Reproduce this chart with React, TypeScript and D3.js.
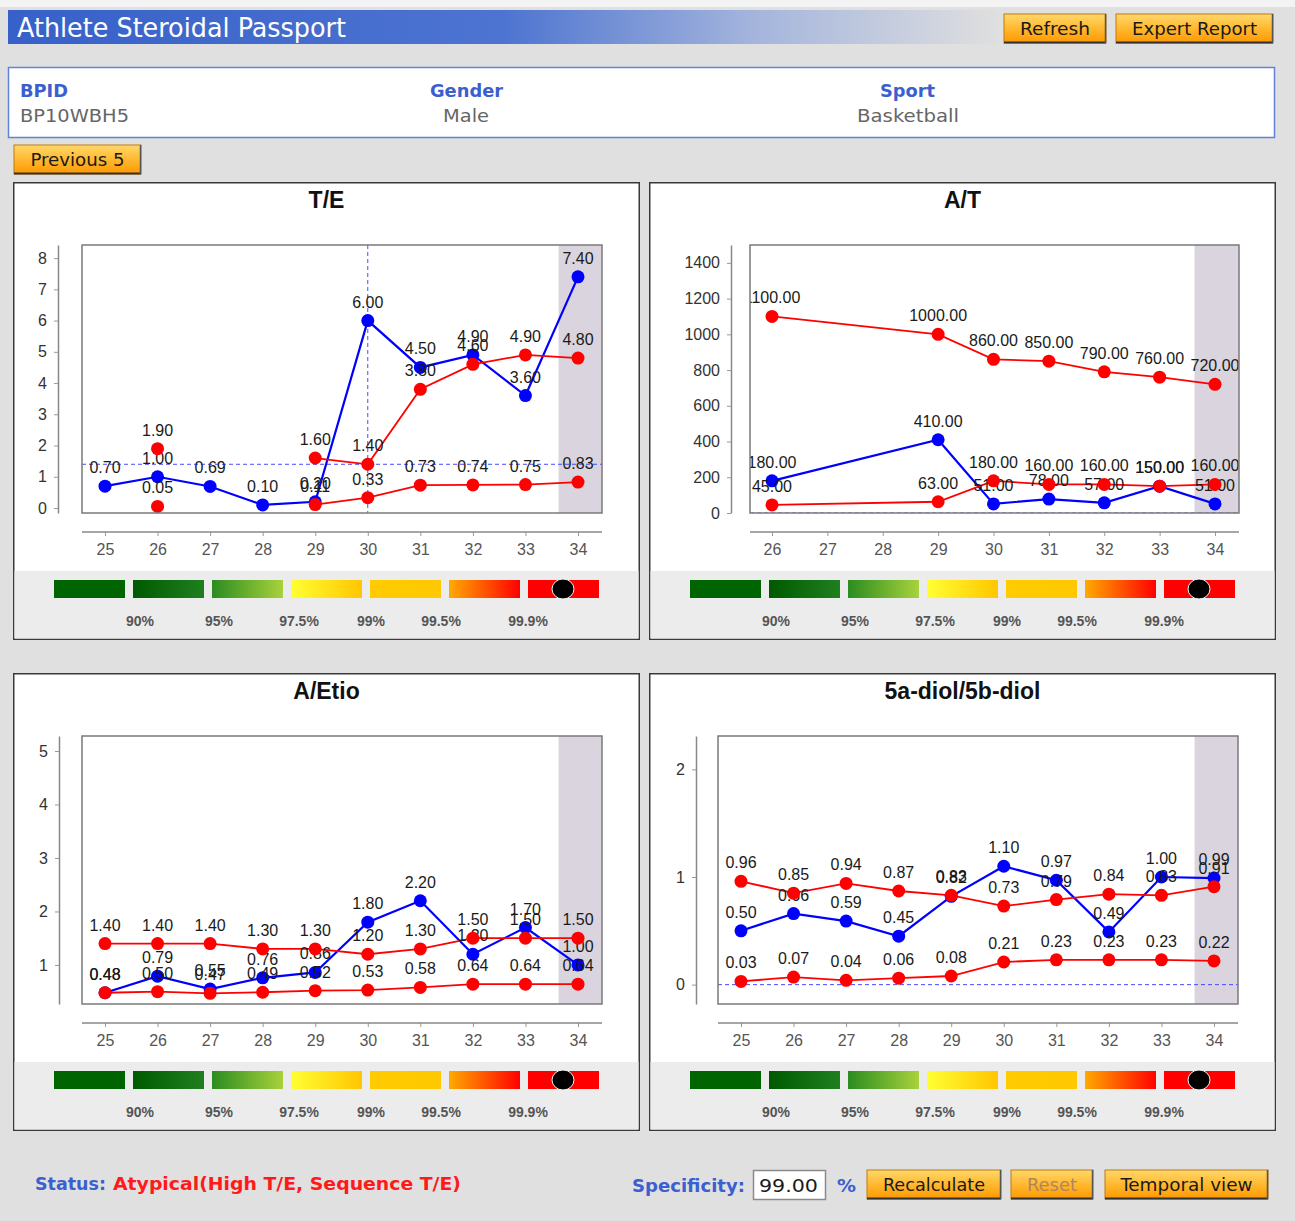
import React, { useEffect, useRef } from 'react';
import * as d3 from 'd3';

// sample numbers along the x axis
const samples = ['25', '26', '27', '28', '29', '30', '31', '32', '33', '34'];
const samplesAT = ['26', '27', '28', '29', '30', '31', '32', '33', '34'];

// T/E
const teValues = [0.7, 1.0, 0.69, 0.1, 0.2, 6.0, 4.5, 4.9, 3.6, 7.4];
const teUpper = [null, 1.9, null, null, 1.6, 1.4, 3.8, 4.6, 4.9, 4.8];
const teLower = [null, 0.05, null, null, 0.11, 0.33, 0.73, 0.74, 0.75, 0.83];
const teTicks = [0, 1, 2, 3, 4, 5, 6, 7, 8];

// A/T
const atValues = [180, null, null, 410, 51, 78, 57, 150, 51];
const atUpper = [1100, null, null, 1000, 860, 850, 790, 760, 720];
const atLower = [45, null, null, 63, 180, 160, 160, 150, 160];
const atTicks = [0, 200, 400, 600, 800, 1000, 1200, 1400];

// A/Etio
const aeValues = [0.48, 0.79, 0.55, 0.76, 0.86, 1.8, 2.2, 1.2, 1.7, 1.0];
const aeUpper = [1.4, 1.4, 1.4, 1.3, 1.3, 1.2, 1.3, 1.5, 1.5, 1.5];
const aeLower = [0.48, 0.5, 0.47, 0.49, 0.52, 0.53, 0.58, 0.64, 0.64, 0.64];
const aeTicks = [1, 2, 3, 4, 5];

// 5a-diol/5b-diol
const diolValues = [0.5, 0.66, 0.59, 0.45, 0.82, 1.1, 0.97, 0.49, 1.0, 0.99];
const diolUpper = [0.96, 0.85, 0.94, 0.87, 0.83, 0.73, 0.79, 0.84, 0.83, 0.91];
const diolLower = [0.03, 0.07, 0.04, 0.06, 0.08, 0.21, 0.23, 0.23, 0.23, 0.22];
const diolTicks = [0, 1, 2];

// specificity legend
const legendLabels = ['90%', '95%', '97.5%', '99%', '99.5%', '99.9%'];
const legendColors = [
  ['#006400', '#006400'],
  ['#005a00', '#1f7f1f'],
  ['#2b8c20', '#a8d23c'],
  ['#ffff33', '#ffc600'],
  ['#ffcc00', '#ffc800'],
  ['#ffaa00', '#ff0000'],
  ['#ff0000', '#ff0000'],
];
const legendLabelX = [127, 206, 286, 358, 428, 515];

const FONT = "'Liberation Sans', Arial, sans-serif";
const UI_FONT = "'DejaVu Sans Condensed', 'Liberation Sans', Arial, sans-serif";

interface PanelConfig {
  id: string;
  x: number;
  y: number;
  title: string;
  samples: string[];
  values: (number | null)[];
  upper: (number | null)[];
  lower: (number | null)[];
  yDomain: [number, number];
  yTicks: number[];
  plotLeft: number;
  plotRight: number;
  axisX: number;
  xRange: [number, number];
  bridgeGaps: boolean;
  crossX?: string;
  crossY: number;
}

const panels: PanelConfig[] = [
  {
    id: 'te', x: 13, y: 182, title: 'T/E', samples, values: teValues, upper: teUpper, lower: teLower,
    yDomain: [-0.16, 8.42], yTicks: teTicks, plotLeft: 69, plotRight: 589, axisX: 45,
    xRange: [92, 565], bridgeGaps: false, crossX: '30', crossY: 1.4,
  },
  {
    id: 'at', x: 649, y: 182, title: 'A/T', samples: samplesAT, values: atValues, upper: atUpper, lower: atLower,
    yDomain: [0, 1500], yTicks: atTicks, plotLeft: 101, plotRight: 590, axisX: 82,
    xRange: [123, 566], bridgeGaps: true, crossY: 0,
  },
  {
    id: 'ae', x: 13, y: 673, title: 'A/Etio', samples, values: aeValues, upper: aeUpper, lower: aeLower,
    yDomain: [0.27, 5.28], yTicks: aeTicks, plotLeft: 69, plotRight: 589, axisX: 46,
    xRange: [92, 565], bridgeGaps: false, crossY: 0,
  },
  {
    id: 'diol', x: 649, y: 673, title: '5a-diol/5b-diol', samples, values: diolValues, upper: diolUpper, lower: diolLower,
    yDomain: [-0.18, 2.31], yTicks: diolTicks, plotLeft: 69, plotRight: 589, axisX: 47,
    xRange: [92, 565], bridgeGaps: false, crossY: 0,
  },
];

const Panel: React.FC<{ cfg: PanelConfig }> = ({ cfg }) => {
  const ref = useRef<SVGGElement>(null);

  useEffect(() => {
    const g = d3.select(ref.current);
    g.selectAll('*').remove();

    const W = 627, H = 458, top = 63, bottom = 331;
    const left = cfg.plotLeft, right = cfg.plotRight;

    const x = d3.scalePoint<string>().domain(cfg.samples).range(cfg.xRange);
    const y = d3.scaleLinear().domain(cfg.yDomain).range([bottom, top]);
    const step = x.step();
    const fmt = d3.format('.2f');

    const defs = g.append('defs');
    defs.append('clipPath').attr('id', `clip-${cfg.id}`)
      .append('rect').attr('x', left).attr('y', top).attr('width', right - left).attr('height', bottom - top);

    // panel
    g.append('rect').attr('x', 0.75).attr('y', 0.75).attr('width', W - 1.5).attr('height', H - 1.5)
      .attr('fill', '#fff').attr('stroke', '#3a3a3a').attr('stroke-width', 1.5);
    g.append('rect').attr('x', 1.5).attr('y', 389).attr('width', W - 3).attr('height', H - 390.5)
      .attr('fill', '#ececec');

    g.append('text').attr('x', W / 2).attr('y', 26).attr('text-anchor', 'middle')
      .attr('font-family', FONT).attr('font-weight', 'bold').attr('font-size', 23).attr('fill', '#111')
      .text(cfg.title);

    // plot area
    g.append('rect').attr('x', left).attr('y', top).attr('width', right - left).attr('height', bottom - top)
      .attr('fill', '#fff');
    const last = cfg.samples[cfg.samples.length - 1];
    g.append('rect').attr('x', x(last)! - step * 0.37).attr('y', top)
      .attr('width', right - (x(last)! - step * 0.37)).attr('height', bottom - top)
      .attr('fill', '#d9d4de');

    const plot = g.append('g').attr('clip-path', `url(#clip-${cfg.id})`);

    // crosshair
    plot.append('line').attr('x1', left).attr('x2', right).attr('y1', y(cfg.crossY)).attr('y2', y(cfg.crossY))
      .attr('stroke', '#4a4aff').attr('stroke-dasharray', '4,3').attr('stroke-width', 1);
    if (cfg.crossX) {
      plot.append('line').attr('x1', x(cfg.crossX)!).attr('x2', x(cfg.crossX)!).attr('y1', top).attr('y2', bottom)
        .attr('stroke', '#4a4aff').attr('stroke-dasharray', '4,3').attr('stroke-width', 1);
    }

    type Pt = { s: string; v: number | null };
    const series = [
      { vals: cfg.values, color: '#0000ff', width: 2.2 },
      { vals: cfg.upper, color: '#ff0000', width: 1.8 },
      { vals: cfg.lower, color: '#ff0000', width: 1.8 },
    ];

    series.forEach(sr => {
      let pts: Pt[] = cfg.samples.map((s, i) => ({ s, v: sr.vals[i] }));
      if (cfg.bridgeGaps) pts = pts.filter(p => p.v != null);
      const line = d3.line<Pt>()
        .defined(p => p.v != null)
        .x(p => x(p.s)!)
        .y(p => y(p.v as number));
      plot.append('path').datum(pts).attr('d', line).attr('fill', 'none')
        .attr('stroke', sr.color).attr('stroke-width', sr.width);
    });

    series.forEach(sr => {
      const pts = cfg.samples.map((s, i) => ({ s, v: sr.vals[i] })).filter(p => p.v != null) as { s: string; v: number }[];
      plot.selectAll(null).data(pts).enter().append('circle')
        .attr('cx', p => x(p.s)!).attr('cy', p => y(p.v)).attr('r', 6.5).attr('fill', sr.color);
      plot.selectAll(null).data(pts).enter().append('text')
        .attr('x', p => x(p.s)!).attr('y', p => y(p.v) - 13).attr('text-anchor', 'middle')
        .attr('font-family', FONT).attr('font-size', 16).attr('fill', '#1a1a1a')
        .text(p => fmt(p.v));
    });

    g.append('rect').attr('x', left).attr('y', top).attr('width', right - left).attr('height', bottom - top)
      .attr('fill', 'none').attr('stroke', '#7a7a7a').attr('stroke-width', 1.5);

    // y axis
    const yAxis = g.append('g').attr('transform', `translate(${cfg.axisX},0)`)
      .call(d3.axisLeft(y).tickValues(cfg.yTicks).tickSize(4).tickSizeOuter(0).tickPadding(7).tickFormat(d3.format('d')));
    yAxis.select('.domain').attr('stroke', '#888').attr('stroke-width', 1.5);
    yAxis.selectAll('.tick line').attr('stroke', '#999');
    yAxis.selectAll('.tick text').attr('font-family', FONT).attr('font-size', 16).attr('fill', '#333');

    // x axis
    const xAxis = g.append('g').attr('transform', `translate(0,350)`)
      .call(d3.axisBottom(x).tickSize(4).tickSizeOuter(0).tickPadding(8));
    xAxis.select('.domain').remove();
    xAxis.append('line').attr('x1', left).attr('x2', right).attr('stroke', '#888').attr('stroke-width', 1.5);
    xAxis.selectAll('.tick line').attr('stroke', '#999');
    xAxis.selectAll('.tick text').attr('font-family', FONT).attr('font-size', 16).attr('fill', '#555');

    // specificity legend
    legendColors.forEach((c, i) => {
      const gid = `lg-${cfg.id}-${i}`;
      const grad = defs.append('linearGradient').attr('id', gid).attr('x1', 0).attr('x2', 1).attr('y1', 0).attr('y2', 0);
      grad.append('stop').attr('offset', 0).attr('stop-color', c[0]);
      grad.append('stop').attr('offset', 1).attr('stop-color', c[1]);
      g.append('rect').attr('x', 41 + i * 79).attr('y', 398).attr('width', 71).attr('height', 18)
        .attr('fill', `url(#${gid})`);
    });
    g.append('ellipse').attr('cx', 550).attr('cy', 407).attr('rx', 11).attr('ry', 10)
      .attr('fill', '#000').attr('stroke', '#f2f2f2').attr('stroke-width', 1);
    legendLabels.forEach((l, i) => {
      g.append('text').attr('x', legendLabelX[i]).attr('y', 444).attr('text-anchor', 'middle')
        .attr('font-family', FONT).attr('font-weight', 'bold').attr('font-size', 14).attr('fill', '#555')
        .text(l);
    });
  }, [cfg]);

  return <g ref={ref} transform={`translate(${cfg.x},${cfg.y})`} />;
};

const Button: React.FC<{ x: number; y: number; w: number; h: number; label: string; tl: number; disabled?: boolean }> =
  ({ x, y, w, h, label, tl, disabled }) => (
    <g transform={`translate(${x},${y})`}>
      <rect width={w} height={h} fill="url(#btnGrad)" stroke="#c07a10" strokeWidth={1} />
      <line x1={0} x2={w} y1={h - 0.5} y2={h - 0.5} stroke="#333" strokeWidth={2} />
      <line x1={w - 0.5} x2={w - 0.5} y1={0} y2={h} stroke="#555" strokeWidth={1.5} />
      <text x={w / 2} y={h / 2 + 6} textAnchor="middle" fontFamily={UI_FONT} fontSize={17}
        textLength={tl} lengthAdjust="spacingAndGlyphs" fill={disabled ? '#b08660' : '#1a1a1a'}>{label}</text>
    </g>
  );

const App: React.FC = () => {
  return (
    <svg width={1295} height={1221} style={{ position: 'absolute', left: 0, top: 0 }}>
      <defs>
        <linearGradient id="hdrGrad" x1={0} x2={1} y1={0} y2={0}>
          <stop offset={0} stopColor="#3761c9" />
          <stop offset={0.5} stopColor="#4d74d1" />
          <stop offset={0.75} stopColor="#a3b4dc" />
          <stop offset={1} stopColor="#dfdfdf" />
        </linearGradient>
        <linearGradient id="btnGrad" x1={0} x2={0} y1={0} y2={1}>
          <stop offset={0} stopColor="#ffd86a" />
          <stop offset={0.55} stopColor="#ffb52a" />
          <stop offset={1} stopColor="#ff9800" />
        </linearGradient>
      </defs>
      <rect width={1295} height={1221} fill="#e0e0e0" />
      <rect width={1295} height={7} fill="#f3f3f3" />

      {/* header */}
      <rect x={8} y={10} width={990} height={34} fill="url(#hdrGrad)" />
      <text x={17} y={37} fill="#fff" fontFamily={UI_FONT} fontSize={27} textLength={329}
        lengthAdjust="spacingAndGlyphs">Athlete Steroidal Passport</text>
      <Button x={1004} y={14} w={102} h={29} label="Refresh" tl={70} />
      <Button x={1116} y={14} w={157} h={29} label="Expert Report" tl={125} />

      {/* athlete info */}
      <rect x={8.5} y={67.5} width={1266} height={70} fill="#fff" stroke="#5f82d8" strokeWidth={1.5} />
      <g fontFamily={UI_FONT}>
        <text x={20} y={97} fontSize={18} fontWeight="bold" fill="#3b5fcf" textLength={48} lengthAdjust="spacingAndGlyphs">BPID</text>
        <text x={20} y={122} fontSize={18} fill="#666" textLength={109} lengthAdjust="spacingAndGlyphs">BP10WBH5</text>
        <text x={430} y={97} fontSize={18} fontWeight="bold" fill="#3b5fcf" textLength={73} lengthAdjust="spacingAndGlyphs">Gender</text>
        <text x={443} y={122} fontSize={18} fill="#666" textLength={46} lengthAdjust="spacingAndGlyphs">Male</text>
        <text x={880} y={97} fontSize={18} fontWeight="bold" fill="#3b5fcf" textLength={55} lengthAdjust="spacingAndGlyphs">Sport</text>
        <text x={857} y={122} fontSize={18} fill="#666" textLength={102} lengthAdjust="spacingAndGlyphs">Basketball</text>
      </g>
      <Button x={14} y={145} w={127} h={29} label="Previous 5" tl={94} />

      {panels.map(p => <Panel key={p.id} cfg={p} />)}

      {/* status bar */}
      <g fontFamily={UI_FONT} fontWeight="bold" fontSize={18}>
        <text x={35} y={1190} fill="#3b5fcf" textLength={71} lengthAdjust="spacingAndGlyphs">Status:</text>
        <text x={113} y={1190} fill="#ff1a1a" textLength={348} lengthAdjust="spacingAndGlyphs">Atypical(High T/E, Sequence T/E)</text>
        <text x={632} y={1192} fill="#3b5fcf" textLength={113} lengthAdjust="spacingAndGlyphs">Specificity:</text>
        <text x={837} y={1192} fill="#3b5fcf" textLength={19} lengthAdjust="spacingAndGlyphs">%</text>
      </g>
      <rect x={753.5} y={1170.5} width={72} height={29} fill="#fff" stroke="#8a8a8a" strokeWidth={1.5} />
      <text x={759} y={1192} fontFamily={UI_FONT} fontSize={18} fill="#1a1a1a" textLength={59}
        lengthAdjust="spacingAndGlyphs">99.00</text>
      <Button x={867} y={1170} w={134} h={29} label="Recalculate" tl={102} />
      <Button x={1011} y={1170} w={82} h={29} label="Reset" tl={50} disabled />
      <Button x={1105} y={1170} w={163} h={29} label="Temporal view" tl={132} />
    </svg>
  );
};

export default App;
